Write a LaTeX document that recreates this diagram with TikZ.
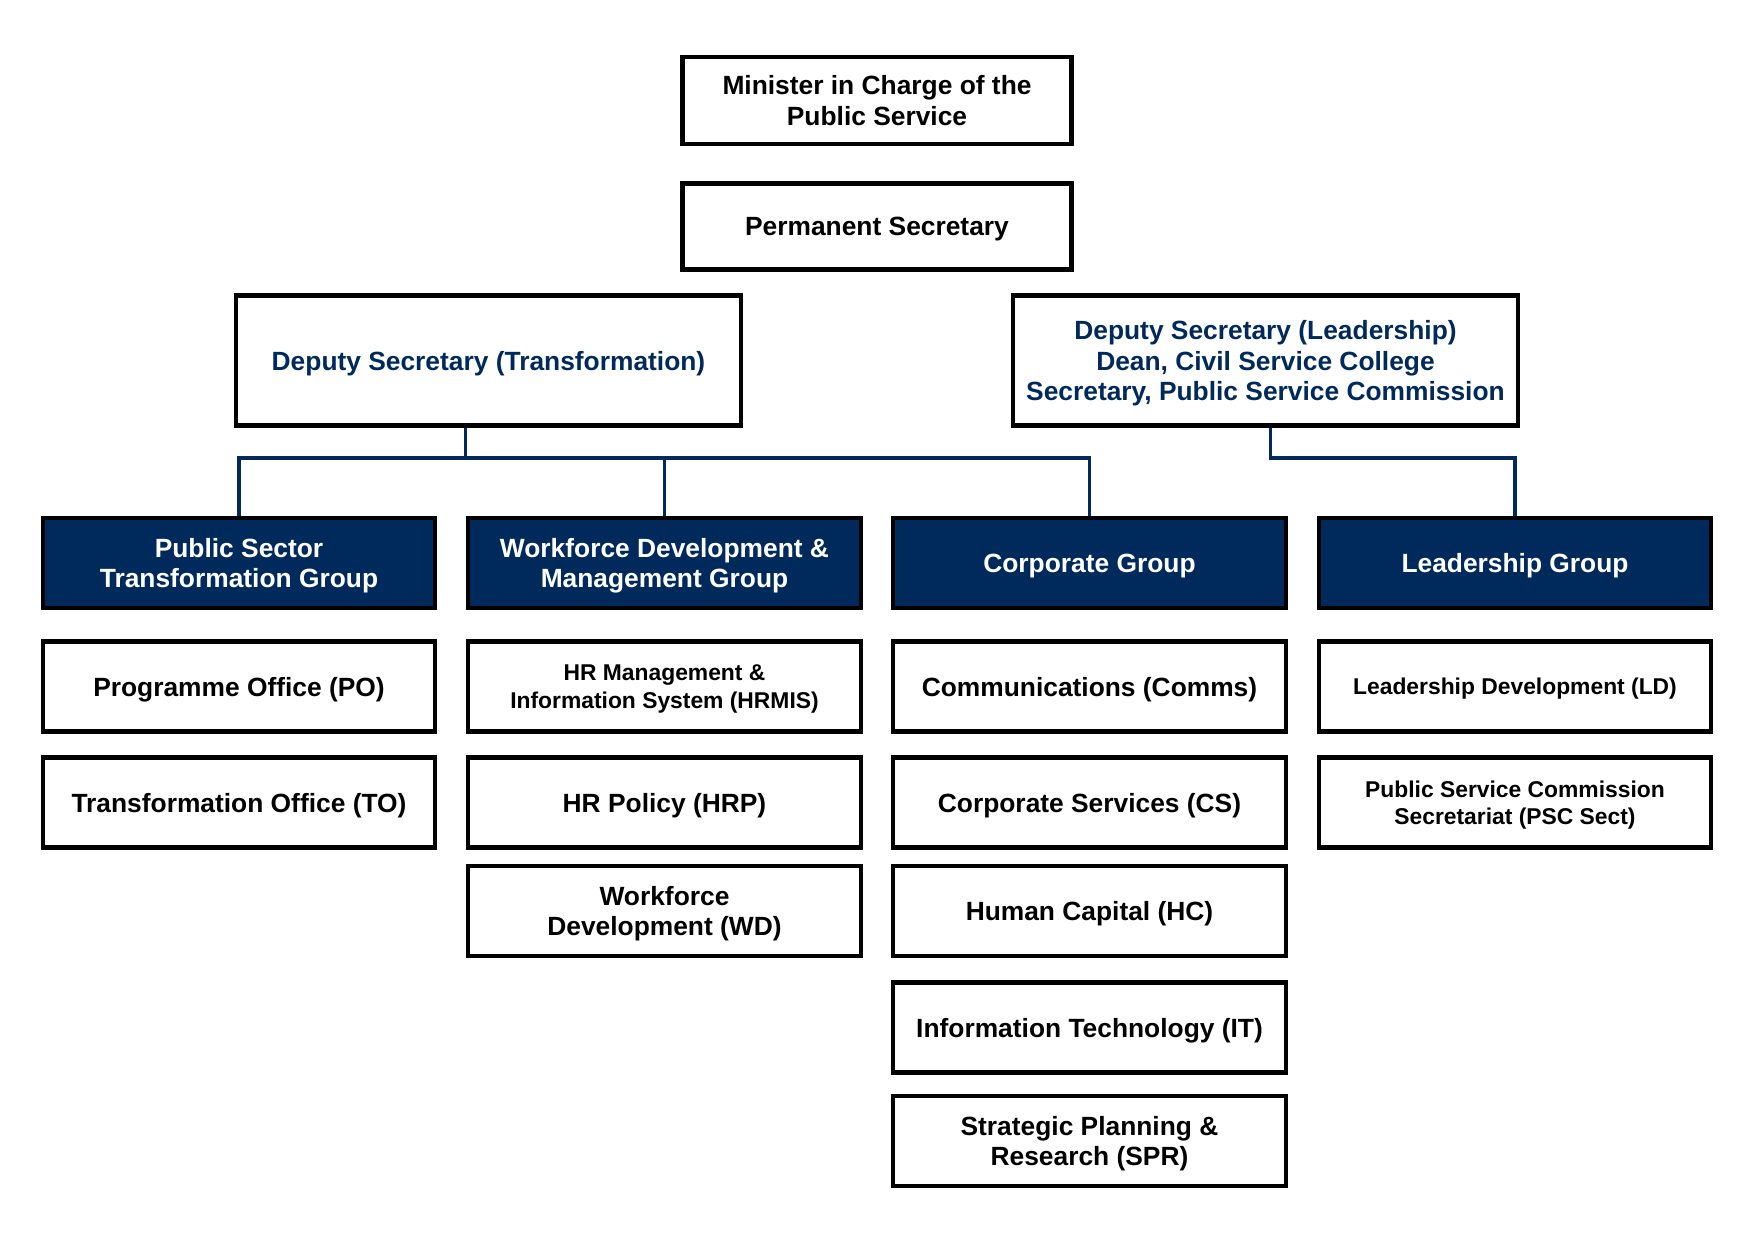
\documentclass[tikz,border=0pt]{standalone}
\usepackage{fontspec}
\setmainfont{Liberation Sans}
\definecolor{navy}{RGB}{0,42,92}
\tikzset{box/.style = {draw = black,line width = 2.3pt,fill = white,minimum width = 7.85cm,minimum height = 1.8cm,align = center,inner sep = 2pt,text depth = 0pt,font = \bfseries\fontsize{15}{17.5}\selectfont},
small/.style = {font = \bfseries\fontsize{13}{15.5}\selectfont},
group/.style = {box,fill = navy,text = white},
link/.style = {draw = navy,line width = 1.8pt}}

\begin{document}
\begin{tikzpicture}
\useasboundingbox (0,0) rectangle (35.1,-24.86);
\node[box,minimum width = 7.78cm,minimum height = 1.74cm] (a) at (17.54,-2.01) {Minister in Charge of the \\ Public Service};
\node[box,minimum width = 7.78cm,minimum height = 1.72cm] (b) at (17.54,-4.53) {Permanent Secretary};

\node[box,text = navy,minimum width = 10.1cm,minimum height = 2.6cm] (c) at (9.77,-7.21) {Deputy Secretary (Transformation)};
\node[box,text = navy,minimum width = 10.1cm,minimum height = 2.6cm] (d) at (25.31,-7.21) {Deputy Secretary (Leadership) \\ Dean, Civil Service College \\ Secretary, Public Service Commission};

\node[group] (e) at (4.78,-11.26) {Public Sector \\ Transformation Group};
\node[group] (f) at (13.29,-11.26) {Workforce Development \& \\ Management Group};
\node[group] (g) at (21.79,-11.26) {Corporate Group};
\node[group] (h) at (30.30,-11.26) {Leadership Group};

\node[box] (i) at (4.78,-13.73) {Programme Office (PO)};
\node[box] (j) at (4.78,-16.05) {Transformation Office (TO)};

\node[box,small] (k) at (13.29,-13.73) {HR Management \& \\ Information System (HRMIS)};
\node[box] (l) at (13.29,-16.05) {HR Policy (HRP)};
\node[box] (m) at (13.29,-18.22) {Workforce \\ Development (WD)};

\node[box] (n) at (21.79,-13.73) {Communications (Comms)};
\node[box] (o) at (21.79,-16.05) {Corporate Services (CS)};
\node[box] (p) at (21.79,-18.22) {Human Capital (HC)};
\node[box] (q) at (21.79,-20.55) {Information Technology (IT)};
\node[box] (r) at (21.79,-22.82) {Strategic Planning \& \\ Research (SPR)};

\node[box,small] (s) at (30.30,-13.73) {Leadership Development (LD)};
\node[box,small] (t) at (30.30,-16.05) {Public Service Commission \\ Secretariat (PSC Sect)};

\coordinate (u) at (9.31,-9.16);
\coordinate (v) at (25.41,-9.16);
\draw[link] (c.south -| u) -- (u);
\draw[link] (e.north) |- (u) -| (g.north);
\draw[link] (u) -| (f.north);
\draw[link] (d.south -| v) |- (h.north |- v) -- (h.north);
\end{tikzpicture}
\end{document}
